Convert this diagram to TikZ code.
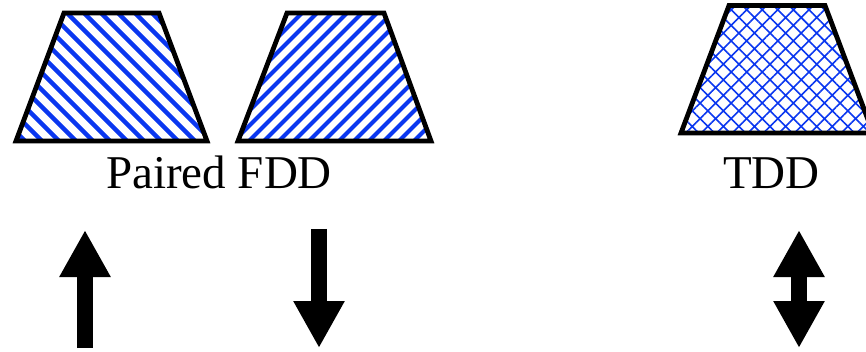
\documentclass[tikz,border=0pt]{standalone}
\usepackage{fontspec}
\setmainfont{Liberation Serif}
\usetikzlibrary{patterns.meta,arrows.meta}
\definecolor{hatchblue}{RGB}{10,55,240}
\tikzset{
  outline/.style={line width=4.8pt, line join=miter, draw=black},
  stripe/.style={draw=hatchblue, line width=4.4pt},
  label/.style={anchor=base, inner sep=0pt, font=\fontsize{47}{50}\selectfont},
  bigarrow/.style={line width=16pt, draw=black}
}
\begin{document}
\begin{tikzpicture}[x=1pt,y=-1pt]
\useasboundingbox (0,0) rectangle (866,352);
\clip (0,0) rectangle (866,352);
% uplink band
\begin{scope}
  \clip (64,13) -- (159,13) -- (207,141) -- (16,141) -- cycle;
  \foreach \c in {-150,-133,...,170} \draw[stripe] (\c,0) -- ({\c+160},160);
\end{scope}
\draw[outline] (64,13) -- (159,13) -- (207,141) -- (16,141) -- cycle;
% downlink band
\begin{scope}
  \clip (287,13) -- (384,13) -- (431,141) -- (238,141) -- cycle;
  \foreach \c in {285,300,...,585} \draw[stripe, line width=4pt] (\c,0) -- ({\c-160},160);
\end{scope}
\draw[outline] (287,13) -- (384,13) -- (431,141) -- (238,141) -- cycle;
% TDD band
\draw[outline, preaction={fill=white}, pattern color=hatchblue, pattern={Hatch[angle=45,distance=11pt,line width=1.6pt]}]
  (729,5.5) -- (825,5.5) -- (873,133) -- (681,133) -- cycle;
% labels
\node[label] (fdd) at (219,189) {Paired FDD};
\node[label] (tdd) at (771.5,189) {TDD};
% arrows
\coordinate (ulA) at (85,348);
\coordinate (ulB) at (85,230);
\coordinate (dlA) at (319,229);
\coordinate (dlB) at (319,348);
\coordinate (tdA) at (799,230);
\coordinate (tdB) at (799,348);
\draw[bigarrow, -{Triangle[length=47pt,width=48pt]}] (ulA) -- (ulB);
\draw[bigarrow, -{Triangle[length=47pt,width=48pt]}] (dlA) -- (dlB);
\draw[bigarrow, {Triangle[length=47pt,width=48pt]}-{Triangle[length=47pt,width=48pt]}] (tdA) -- (tdB);
\end{tikzpicture}
\end{document}
